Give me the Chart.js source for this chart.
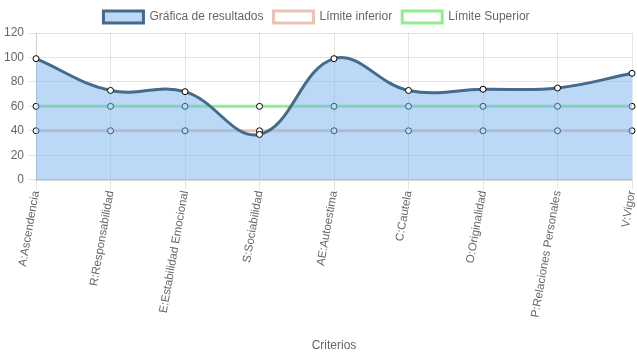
<!DOCTYPE html>
<html>
<head>
<meta charset="utf-8">
<script src="https://cdn.jsdelivr.net/npm/chart.js@4/dist/chart.umd.min.js"></script>
<style>
  html, body { margin: 0; padding: 0; background: #fff; }
  #wrap { width: 637px; height: 359px; }
</style>
</head>
<body>
<div id="wrap"><canvas id="grafica"></canvas></div>
<script>
// categorias y valores
const criterios = ["A:Ascendencia", "R:Responsabilidad", "E:Estabilidad Emocional", "S:Sociabilidad",
  "AE:Autoestima", "C:Cautela", "O:Originalidad", "P:Relaciones Personales", "V:Vigor"];
const resultados = [99, 73, 72, 37, 99, 73, 74, 75, 87];
const limiteInferior = [40, 40, 40, 40, 40, 40, 40, 40, 40];
const limiteSuperior = [60, 60, 60, 60, 60, 60, 60, 60, 60];
const yTicks = { min: 0, max: 120, step: 20 };

Chart.defaults.font.family = "'Liberation Sans', Arial, sans-serif";
Chart.defaults.font.size = 12;
Chart.defaults.color = "#666";

new Chart(document.getElementById("grafica"), {
  type: "line",
  data: {
    labels: criterios,
    datasets: [{
      label: "Gráfica de resultados",
      data: resultados,
      fill: "origin",
      backgroundColor: "rgba(120,180,240,0.5)",
      borderColor: "#456a8a",
      borderWidth: 3,
      tension: 0.4,
      pointRadius: 3,
      pointBackgroundColor: "#fff",
      pointBorderColor: "#000",
      pointBorderWidth: 1
    }, {
      label: "Límite inferior",
      data: limiteInferior,
      fill: false,
      backgroundColor: "#fff",
      borderColor: "rgba(232,196,180,1)",
      borderWidth: 3,
      pointRadius: 3,
      pointBackgroundColor: "#fff",
      pointBorderColor: "#000",
      pointBorderWidth: 1
    }, {
      label: "Límite Superior",
      data: limiteSuperior,
      fill: false,
      backgroundColor: "#fff",
      borderColor: "rgba(144,238,144,1)",
      borderWidth: 3,
      pointRadius: 3,
      pointBackgroundColor: "#fff",
      pointBorderColor: "#000",
      pointBorderWidth: 1
    }]
  },
  options: {
    responsive: true,
    maintainAspectRatio: false,
    animation: false,
    layout: { padding: { left: 0, right: 4, top: 1, bottom: 2 } },
    plugins: {
      legend: {
        position: "top",
        labels: { boxWidth: 40, boxHeight: 12, padding: 10 }
      },
      tooltip: { enabled: false }
    },
    scales: {
      x: {
        grid: { color: "rgba(0,0,0,0.1)", tickLength: 10 },
        border: { color: "rgba(0,0,0,0.15)", width: 2 },
        ticks: { autoSkip: false, minRotation: 80, maxRotation: 80, padding: 0, font: { size: 11.5 } },
        title: { display: true, text: "Criterios", padding: { top: 20, bottom: 4 } },
        // la etiqueta rotada del ultimo punto no debe empujar el area hacia la izquierda
        afterFit: (scale) => { scale.paddingRight = 0; }
      },
      y: {
        min: yTicks.min,
        max: yTicks.max,
        grid: { color: "rgba(0,0,0,0.1)", tickLength: 8 },
        border: { color: "rgba(0,0,0,0.1)" },
        ticks: { stepSize: yTicks.step, padding: 4 }
      }
    }
  }
});
</script>
</body>
</html>
